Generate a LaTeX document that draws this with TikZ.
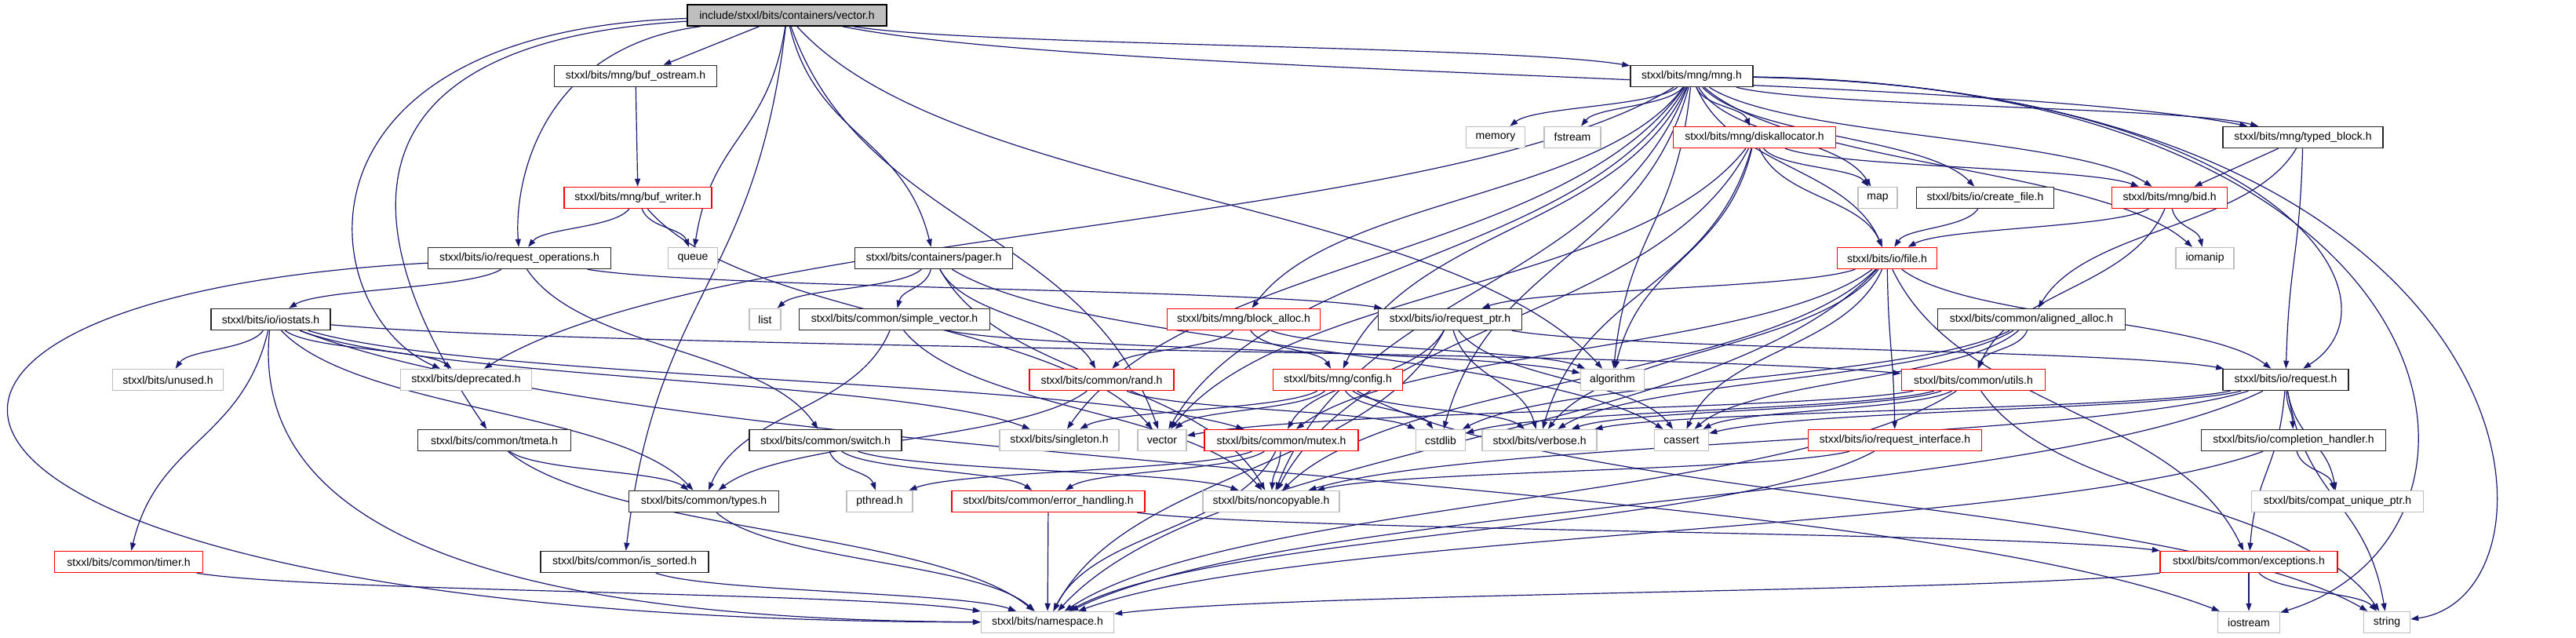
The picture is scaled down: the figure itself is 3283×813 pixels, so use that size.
\documentclass[tikz,border=0pt]{standalone}
\usepackage{fontspec}
\setmainfont{Liberation Sans}
\usetikzlibrary{arrows.meta,calc,backgrounds}
\definecolor{edgec}{HTML}{191970}
\definecolor{sysgray}{HTML}{BFBFBF}
\tikzset{
  nd/.style={draw, line width=1.5pt, fill=white, minimum height=27pt, inner sep=0pt,
    font=\fontsize{14}{16}\selectfont},
  blk/.style={nd, draw=black!85},
  trunc/.style={nd, draw=red},
  sys/.style={nd, draw=sysgray},
  root/.style={nd, draw=black, fill=sysgray},
  lnk/.style={draw=edgec, line width=1.2pt, -{Triangle[length=10pt,width=7pt]}},
}
\newcommand\gnode[6]{\node[#5, minimum width=#4pt] (#1) at (#2,#3) {#6};}
\newcommand\gedge[2]{\draw[lnk] let \p1=(#1), \p2=(#2) in (#1) .. controls ({0.8*\x1+0.2*\x2},{0.5*\y1+0.5*\y2}) and ({0.2*\x1+0.8*\x2},{0.5*\y1+0.5*\y2}) .. (#2);}
\newcommand\gedgec[4]{\draw[lnk] (#1) .. controls #3 and #4 .. (#2);}
\newcommand\gedges[2]{\draw[lnk] (#1) -- (#2);}
\begin{document}
\begin{tikzpicture}[x=1pt,y=-1pt]
\useasboundingbox (0,0) rectangle (3283,813);
\gnode{vec}{1003}{19.5}{254}{root}{include/stxxl/bits/containers/vector.h}
\gnode{bufo}{810}{97}{207}{blk}{stxxl/bits/mng/buf\_ostream.h}
\gnode{mng}{2156}{97}{156}{blk}{stxxl/bits/mng/mng.h}
\gnode{memory}{1906}{175}{75}{sys}{memory}
\gnode{fstream}{2004}{175}{72}{sys}{fstream}
\gnode{diskalloc}{2236}{175}{207}{trunc}{stxxl/bits/mng/diskallocator.h}
\gnode{typed}{2935}{175}{204}{blk}{stxxl/bits/mng/typed\_block.h}
\gnode{bufw}{813}{252}{188}{trunc}{stxxl/bits/mng/buf\_writer.h}
\gnode{map}{2393}{252}{50}{sys}{map}
\gnode{createf}{2530}{252}{175}{blk}{stxxl/bits/io/create\_file.h}
\gnode{bid}{2765}{252}{147}{trunc}{stxxl/bits/mng/bid.h}
\gnode{reqops}{662}{329}{233}{blk}{stxxl/bits/io/request\_operations.h}
\gnode{queue}{883}{329}{63}{sys}{queue}
\gnode{pager}{1190}{329}{201}{blk}{stxxl/bits/containers/pager.h}
\gnode{file}{2405}{329}{127}{trunc}{stxxl/bits/io/file.h}
\gnode{iomanip}{2810}{329}{74}{sys}{iomanip}
\gnode{iostats}{345}{407}{152}{blk}{stxxl/bits/io/iostats.h}
\gnode{list}{975}{407}{40}{sys}{list}
\gnode{simplev}{1140}{407}{243}{blk}{stxxl/bits/common/simple\_vector.h}
\gnode{blockalloc}{1585}{407}{195}{trunc}{stxxl/bits/mng/block\_alloc.h}
\gnode{reqptr}{1848}{407}{183}{blk}{stxxl/bits/io/request\_ptr.h}
\gnode{aligned}{2589}{407}{239}{blk}{stxxl/bits/common/aligned\_alloc.h}
\gnode{unused}{214}{484}{141}{sys}{stxxl/bits/unused.h}
\gnode{deprecated}{594}{484}{167}{sys}{stxxl/bits/deprecated.h}
\gnode{rand}{1404}{484}{184}{trunc}{stxxl/bits/common/rand.h}
\gnode{config}{1705}{484}{165}{trunc}{stxxl/bits/mng/config.h}
\gnode{algorithm}{2055}{484}{81}{sys}{algorithm}
\gnode{utils}{2515}{484}{183}{trunc}{stxxl/bits/common/utils.h}
\gnode{request}{2913}{484}{160}{blk}{stxxl/bits/io/request.h}
\gnode{tmeta}{630}{561}{195}{blk}{stxxl/bits/common/tmeta.h}
\gnode{switch}{1052}{561}{194}{blk}{stxxl/bits/common/switch.h}
\gnode{singleton}{1350}{561}{152}{sys}{stxxl/bits/singleton.h}
\gnode{vectorstd}{1481}{561}{62}{sys}{vector}
\gnode{mutex}{1633}{561}{196}{trunc}{stxxl/bits/common/mutex.h}
\gnode{cstdlib}{1836}{561}{63}{sys}{cstdlib}
\gnode{verbose}{1962}{561}{146}{sys}{stxxl/bits/verbose.h}
\gnode{cassert}{2143}{561}{69}{sys}{cassert}
\gnode{reqif}{2415}{561}{221}{trunc}{stxxl/bits/io/request\_interface.h}
\gnode{complh}{2923}{561}{235}{blk}{stxxl/bits/io/completion\_handler.h}
\gnode{types}{897}{639}{191}{blk}{stxxl/bits/common/types.h}
\gnode{pthread}{1121}{639}{84}{sys}{pthread.h}
\gnode{errh}{1336}{639}{246}{trunc}{stxxl/bits/common/error\_handling.h}
\gnode{noncopy}{1620}{639}{174}{sys}{stxxl/bits/noncopyable.h}
\gnode{compat}{2979}{639}{219}{sys}{stxxl/bits/compat\_unique\_ptr.h}
\gnode{timer}{164}{716}{189}{trunc}{stxxl/bits/common/timer.h}
\gnode{issorted}{796}{716}{214}{blk}{stxxl/bits/common/is\_sorted.h}
\gnode{exceptions}{2866}{716}{226}{trunc}{stxxl/bits/common/exceptions.h}
\gnode{namespace}{1335}{793}{169}{sys}{stxxl/bits/namespace.h}
\gnode{iostream}{2866}{793}{79}{sys}{iostream}
\gnode{string}{3042}{793}{59}{sys}{string}
\begin{scope}[on background layer]
% vector.h
\gedges{vec}{bufo}
\gedge{vec}{mng}
\gedgec{vec}{reqops}{(690,60)}{(655,230)}
\gedge{vec}{queue}
\gedge{vec}{pager}
\gedgec{vec}{deprecated}{(350,40)}{(400,400)}
\gedgec{vec}{tmeta}{(330,60)}{(520,400)}
\gedge{vec}{issorted}
\gedge{vec}{typed}
\gedge{vec}{algorithm}
\gedge{vec}{vectorstd}
% buffers
\gedges{bufo}{bufw}
\gedge{bufw}{reqops}
\gedge{bufw}{queue}
\gedge{bufw}{vectorstd}
% mng.h
\gedge{mng}{memory}
\gedge{mng}{fstream}
\gedge{mng}{diskalloc}
\gedge{mng}{map}
\gedge{mng}{createf}
\gedge{mng}{bid}
\gedge{mng}{typed}
\gedge{mng}{iomanip}
\gedge{mng}{file}
\gedge{mng}{algorithm}
\gedge{mng}{singleton}
\gedge{mng}{vectorstd}
\gedge{mng}{cstdlib}
\gedge{mng}{blockalloc}
\gedge{mng}{config}
\gedge{mng}{deprecated}
\gedge{mng}{noncopy}
\gedgec{mng}{request}{(2900,110)}{(3075,380)}
\gedgec{mng}{iostream}{(3150,110)}{(3230,680)}
\gedgec{mng}{string}{(3250,115)}{(3290,760)}
% diskallocator.h
\gedge{diskalloc}{algorithm}
\gedge{diskalloc}{map}
\gedge{diskalloc}{bid}
\gedge{diskalloc}{file}
\gedge{diskalloc}{vectorstd}
\gedge{diskalloc}{noncopy}
\gedge{diskalloc}{verbose}
% typed_block.h
\gedges{typed}{bid}
\gedge{typed}{aligned}
\gedge{typed}{request}
\gedge{createf}{file}
\gedge{bid}{file}
\gedge{bid}{iomanip}
\gedge{bid}{utils}
% request_operations.h
\gedge{reqops}{iostats}
\gedge{reqops}{switch}
\gedge{reqops}{reqptr}
\gedgec{reqops}{namespace}{(-300,380)}{(-200,790)}
% iostats.h
\gedge{iostats}{unused}
\gedge{iostats}{deprecated}
\gedge{iostats}{utils}
\gedge{iostats}{timer}
\gedge{iostats}{types}
\gedge{iostats}{singleton}
\gedge{iostats}{mutex}
\gedge{iostats}{iostream}
\gedgec{iostats}{namespace}{(315,700)}{(700,790)}
% pager.h
\gedge{pager}{list}
\gedge{pager}{simplev}
\gedge{pager}{rand}
\gedge{pager}{noncopy}
\gedge{pager}{cassert}
% file.h
\gedge{file}{reqptr}
\gedge{file}{request}
\gedge{file}{reqif}
\gedge{file}{mutex}
\gedge{file}{noncopy}
\gedge{file}{cassert}
\gedge{file}{verbose}
\gedge{file}{exceptions}
\gedge{file}{namespace}
% simple_vector.h, block_alloc.h
\gedge{simplev}{types}
\gedge{simplev}{noncopy}
\gedge{simplev}{algorithm}
\gedge{blockalloc}{rand}
\gedge{blockalloc}{config}
\gedge{blockalloc}{algorithm}
% request_ptr.h
\gedge{reqptr}{request}
\gedge{reqptr}{cassert}
\gedge{reqptr}{verbose}
\gedge{reqptr}{mutex}
\gedge{reqptr}{namespace}
% aligned_alloc.h
\gedge{aligned}{utils}
\gedge{aligned}{verbose}
\gedge{aligned}{cassert}
\gedge{aligned}{cstdlib}
% rand.h, config.h
\gedge{rand}{types}
\gedge{rand}{cstdlib}
\gedge{config}{vectorstd}
\gedge{config}{singleton}
\gedge{config}{cstdlib}
\gedge{config}{verbose}
\gedge{config}{string}
% utils.h
\gedge{utils}{vectorstd}
\gedge{utils}{cassert}
\gedge{utils}{cstdlib}
\gedge{utils}{string}
\gedge{utils}{namespace}
\gedge{utils}{verbose}
% request.h
\gedge{request}{complh}
\gedge{request}{exceptions}
\gedge{request}{namespace}
\gedge{request}{cassert}
\gedge{request}{verbose}
\gedge{request}{noncopy}
\gedge{request}{compat}
\gedge{request}{string}
% lower rows
\gedge{tmeta}{types}
\gedge{tmeta}{namespace}
\gedge{switch}{pthread}
\gedge{switch}{errh}
\gedge{switch}{noncopy}
\gedge{mutex}{pthread}
\gedge{mutex}{errh}
\gedge{mutex}{noncopy}
\gedge{mutex}{namespace}
\gedge{reqif}{noncopy}
\gedge{reqif}{namespace}
\gedge{complh}{compat}
\gedge{complh}{namespace}
\gedge{types}{namespace}
\gedges{errh}{namespace}
\gedge{errh}{exceptions}
\gedge{timer}{namespace}
\gedge{issorted}{namespace}
\gedge{exceptions}{namespace}
\gedges{exceptions}{iostream}
\gedge{exceptions}{string}
\end{scope}
\end{tikzpicture}
\end{document}
